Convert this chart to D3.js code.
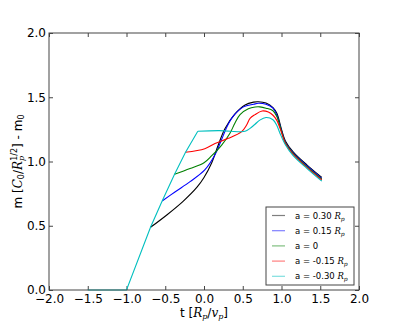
<!DOCTYPE html>
<html lang="en">
<head>
    <meta charset="UTF-8">
    <script src="https://d3js.org/d3.v7.min.js"></script>
    <title>m vs t</title>
    <style>
        body { margin: 0; background: #fff; }
        text { font-family: "DejaVu Sans", sans-serif; }
        .it { font-family: "DejaVu Serif", serif; font-style: italic; }
    </style>
</head>
<body>
    <div id="chart"></div>
    <script>
        // tick values
        const xTicks = [-2.0, -1.5, -1.0, -0.5, 0.0, 0.5, 1.0, 1.5, 2.0];
        const yTicks = [0.0, 0.5, 1.0, 1.5, 2.0];

        // shared straight rise (drawn in cyan, the others branch off it)
        const rampT = [-1.5, -1.0, -0.69, -0.54, -0.38, -0.24, -0.08];
        const rampM = [0.0, 0.0, 0.488, 0.693, 0.90, 1.07, 1.235];

        // a = 0.30 Rp
        const blackT = [-0.69, -0.48, -0.27, -0.09, 0.00, 0.10, 0.185, 0.27, 0.40, 0.53, 0.64, 0.70, 0.80, 0.89, 0.94, 1.00, 1.05, 1.15, 1.33, 1.52];
        const blackM = [0.488, 0.584, 0.69, 0.80, 0.875, 0.99, 1.13, 1.255, 1.37, 1.44, 1.462, 1.465, 1.455, 1.42, 1.375, 1.25, 1.16, 1.075, 0.972, 0.876];
        // a = 0.15 Rp
        const blueT = [-0.54, -0.37, -0.18, 0.01, 0.14, 0.22, 0.30, 0.38, 0.51, 0.64, 0.70, 0.80, 0.89, 0.94, 1.00, 1.05, 1.15, 1.33, 1.52];
        const blueM = [0.693, 0.765, 0.843, 0.934, 1.05, 1.16, 1.275, 1.355, 1.425, 1.445, 1.453, 1.445, 1.415, 1.36, 1.24, 1.15, 1.068, 0.965, 0.868];
        // a = 0
        const greenT = [-0.38, -0.18, 0.00, 0.10, 0.228, 0.335, 0.40, 0.465, 0.572, 0.66, 0.72, 0.80, 0.89, 0.94, 1.00, 1.05, 1.15, 1.33, 1.52];
        const greenM = [0.90, 0.945, 0.99, 1.045, 1.128, 1.22, 1.30, 1.365, 1.41, 1.424, 1.425, 1.415, 1.395, 1.35, 1.235, 1.145, 1.062, 0.958, 0.862];
        // a = -0.15 Rp
        const redT = [-0.24, 0.01, 0.142, 0.314, 0.486, 0.55, 0.594, 0.658, 0.75, 0.83, 0.89, 0.94, 1.00, 1.05, 1.15, 1.33, 1.52];
        const redM = [1.072, 1.10, 1.141, 1.18, 1.232, 1.284, 1.336, 1.365, 1.393, 1.385, 1.36, 1.32, 1.225, 1.14, 1.055, 0.952, 0.856];
        // a = -0.30 Rp
        const cyanT = [-0.08, 0.20, 0.46, 0.53, 0.594, 0.658, 0.72, 0.80, 0.89, 0.94, 0.98, 1.05, 1.15, 1.33, 1.52];
        const cyanM = [1.235, 1.24, 1.232, 1.235, 1.258, 1.29, 1.322, 1.342, 1.325, 1.28, 1.22, 1.13, 1.045, 0.945, 0.847];

        const width = 399, height = 322;
        const margin = { left: 49, right: 40, top: 33, bottom: 32 };

        const svg = d3.select("#chart").append("svg")
            .attr("width", width)
            .attr("height", height);

        const x = d3.scaleLinear().domain([-2, 2]).range([margin.left, width - margin.right]);
        const y = d3.scaleLinear().domain([0, 2]).range([height - margin.bottom, margin.top]);

        const fmt = d3.format(".1f");

        // axes, ticks pointing inwards on all four sides
        svg.append("g")
            .attr("transform", `translate(0,${y(0)})`)
            .call(d3.axisBottom(x).tickValues(xTicks).tickFormat(fmt).tickSize(-4).tickPadding(4));
        svg.append("g")
            .attr("transform", `translate(${x(-2)},0)`)
            .call(d3.axisLeft(y).tickValues(yTicks).tickFormat(fmt).tickSize(-4).tickPadding(3));
        svg.append("g")
            .attr("transform", `translate(0,${y(2)})`)
            .call(d3.axisTop(x).tickValues(xTicks).tickFormat("").tickSize(-4));
        svg.append("g")
            .attr("transform", `translate(${x(2)},0)`)
            .call(d3.axisRight(y).tickValues(yTicks).tickFormat("").tickSize(-4));

        svg.selectAll(".domain").remove();
        svg.selectAll(".tick line").attr("stroke", "#444");
        svg.selectAll(".tick text")
            .attr("fill", "#000")
            .style("font-family", "'DejaVu Sans', sans-serif")
            .style("font-size", "12px");

        const lineSmooth = d3.line().x(d => x(d[0])).y(d => y(d[1])).curve(d3.curveCatmullRom.alpha(0.5));
        const lineStraight = d3.line().x(d => x(d[0])).y(d => y(d[1]));

        const series = [
            { t: blackT, m: blackM, color: "#000000", label: "a = 0.30 ", rp: true },
            { t: blueT, m: blueM, color: "#0000ff", label: "a = 0.15 ", rp: true },
            { t: greenT, m: greenM, color: "#008000", label: "a = 0", rp: false },
            { t: redT, m: redM, color: "#ff0000", label: "a = -0.15 ", rp: true },
            { t: cyanT, m: cyanM, color: "#00bfbf", label: "a = -0.30 ", rp: true }
        ];

        const plot = svg.append("g");

        series.forEach(s => {
            plot.append("path")
                .attr("d", lineSmooth(d3.zip(s.t, s.m)))
                .attr("fill", "none")
                .attr("stroke", s.color)
                .attr("stroke-width", 1.1);
        });

        plot.append("path")
            .attr("d", lineStraight(d3.zip(rampT, rampM)))
            .attr("fill", "none")
            .attr("stroke", "#00bfbf")
            .attr("stroke-width", 1.1);

        // frame
        svg.append("rect")
            .attr("x", x(-2)).attr("y", y(2))
            .attr("width", x(2) - x(-2)).attr("height", y(0) - y(2))
            .attr("fill", "none").attr("stroke", "#444").attr("stroke-width", 1);

        // legend
        const leg = svg.append("g").attr("transform", "translate(266,207)");
        leg.append("rect")
            .attr("width", 88).attr("height", 78)
            .attr("fill", "#fff").attr("stroke", "#444").attr("stroke-width", 1);

        series.forEach((s, i) => {
            const yy = 8.5 + i * 15.2;
            leg.append("line")
                .attr("x1", 6).attr("x2", 19).attr("y1", yy).attr("y2", yy)
                .attr("stroke", s.color).attr("stroke-opacity", 0.5).attr("stroke-width", 1.2);
            const txt = leg.append("text")
                .attr("x", 29).attr("y", yy + 3)
                .style("font-size", "8.5px");
            txt.append("tspan").text(s.label);
            if (s.rp) {
                txt.append("tspan").attr("class", "it").text("R");
                txt.append("tspan").attr("class", "it").attr("dy", 2).style("font-size", "6px").text("p");
            }
        });

        // x label
        const xl = svg.append("text")
            .attr("x", x(0)).attr("y", 317)
            .attr("text-anchor", "middle")
            .style("font-size", "12px");
        xl.append("tspan").text("t [");
        xl.append("tspan").attr("class", "it").text("R");
        xl.append("tspan").attr("class", "it").attr("dy", 2).style("font-size", "8px").text("p");
        xl.append("tspan").attr("dy", -2).text("/");
        xl.append("tspan").attr("class", "it").text("v");
        xl.append("tspan").attr("class", "it").attr("dy", 2).style("font-size", "8px").text("p");
        xl.append("tspan").attr("dy", -2).text("]");

        // y label
        const yl = svg.append("text")
            .attr("transform", `translate(22,${y(1)}) rotate(-90)`)
            .attr("text-anchor", "middle")
            .style("font-size", "12px");
        yl.append("tspan").text("m [");
        yl.append("tspan").attr("class", "it").text("C");
        yl.append("tspan").attr("dy", 2).style("font-size", "8px").text("0");
        yl.append("tspan").attr("dy", -2).text("/");
        yl.append("tspan").attr("class", "it").text("R");
        yl.append("tspan").attr("class", "it").attr("dy", 2).style("font-size", "8px").text("p");
        yl.append("tspan").attr("dx", -5).attr("dy", -7).style("font-size", "8px").text("1/2");
        yl.append("tspan").attr("dy", 5).text("] - m");
        yl.append("tspan").attr("dy", 2).style("font-size", "8px").text("0");
    </script>
</body>
</html>
